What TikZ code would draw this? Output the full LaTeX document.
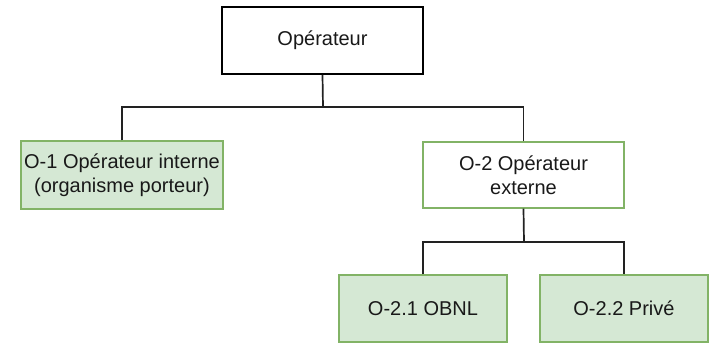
\documentclass[tikz,border=0pt]{standalone}
\usepackage{fontspec}
\setmainfont{Liberation Sans}
\definecolor{gfill}{HTML}{D5E8D4}
\definecolor{gline}{HTML}{82B366}
\definecolor{conn}{HTML}{222222}
\begin{document}
\begin{tikzpicture}[x=1pt,y=-1pt,
  box/.style={draw, rectangle, align=center, inner sep=0pt, text=black!90, font=\fontsize{20}{23.5}\selectfont},
  topbox/.style={box, draw=black, line width=1.6pt, fill=white},
  gbox/.style={box, draw=gline, line width=1.2pt, fill=gfill},
  wbox/.style={box, draw=gline, line width=1.2pt, fill=white},
  conn/.style={draw=conn, line width=1.7pt}]
\useasboundingbox (0,0) rectangle (715,344);
\node[topbox, minimum width=201pt, minimum height=67pt] (op) at (322.5,40.5) {Opérateur};
\node[gbox, minimum width=202pt, minimum height=68pt] (o1) at (122,175) {O-1 Opérateur interne\\(organisme porteur)};
\node[wbox, minimum width=201pt, minimum height=66pt] (o2) at (523.5,175) {O-2 Opérateur\\externe};
\node[gbox, minimum width=168pt, minimum height=67pt] (o21) at (423,308.5) {O-2.1 OBNL};
\node[gbox, minimum width=168pt, minimum height=67pt] (o22) at (624,308.5) {O-2.2 Privé};
\coordinate (j1) at (323,107);
\coordinate (j2) at (524,242);
\draw[conn] (op.south) -- (j1);
\draw[conn] (o1.north) |- (j1) -| (o2.north);
\draw[conn] (o2.south) -- (j2);
\draw[conn] (o21.north) |- (j2) -| (o22.north);
\end{tikzpicture}
\end{document}
